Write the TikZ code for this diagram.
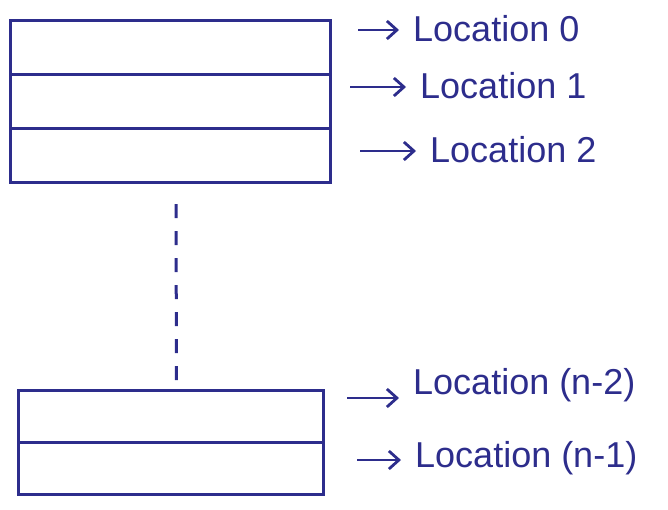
\documentclass[tikz,border=0pt]{standalone}
\usepackage{fontspec}
\setmainfont{Liberation Sans}
\usetikzlibrary{positioning, arrows.meta}
\definecolor{ink}{RGB}{45,45,140}

\begin{document}
\begin{tikzpicture}[
    x=1pt, y=-1pt,
    cell/.style={draw=ink, line width=3pt, rectangle, minimum width=320pt, minimum height=54pt, inner sep=0pt, outer sep=0pt},
    lbl/.style={text=ink, font=\fontsize{36}{42}\selectfont, anchor=west, inner sep=0pt},
    arr/.style={draw=ink, line width=2.8pt, -{Straight Barb[length=10pt,width=18pt]}, shorten >=14pt},
    gap/.style={draw=ink, line width=3pt, dash pattern=on 14pt off 13pt}
]
    \useasboundingbox (0,0) rectangle (668,509);

    % first locations
    \node[cell] (loc0) at (170,47) {};
    \node[cell, below=0pt of loc0] (loc1) {};
    \node[cell, below=0pt of loc1] (loc2) {};

    % last locations
    \node[cell, minimum width=305pt, minimum height=52pt] (locn2) at (170.5,416) {};
    \node[cell, minimum width=305pt, minimum height=52pt, below=0pt of locn2] (locn1) {};

    \draw[gap] ([shift={(6pt,-22pt)}]loc2.south) -- ([shift={(6pt,4pt)}]locn2.north);

    % labels
    \node[lbl] (lab0) at (413,29) {Location 0};
    \node[lbl] (lab1) at (420,86) {Location 1};
    \node[lbl] (lab2) at (430,150) {Location 2};
    \node[lbl] (labn2) at (413,385) {Location (n-2)};
    \node[lbl] (labn1) at (415,458) {Location (n-1)};

    \coordinate (a0) at (358,30);
    \coordinate (a1) at (350,87);
    \coordinate (a2) at (360,151);
    \coordinate (an2) at (347,398);
    \coordinate (an1) at (357,460);

    \draw[arr] (a0) -- (a0 -| lab0.west);
    \draw[arr] (a1) -- (a1 -| lab1.west);
    \draw[arr] (a2) -- (a2 -| lab2.west);
    \draw[arr] (an2) -- (an2 -| labn2.west);
    \draw[arr] (an1) -- (an1 -| labn1.west);
\end{tikzpicture}
\end{document}
